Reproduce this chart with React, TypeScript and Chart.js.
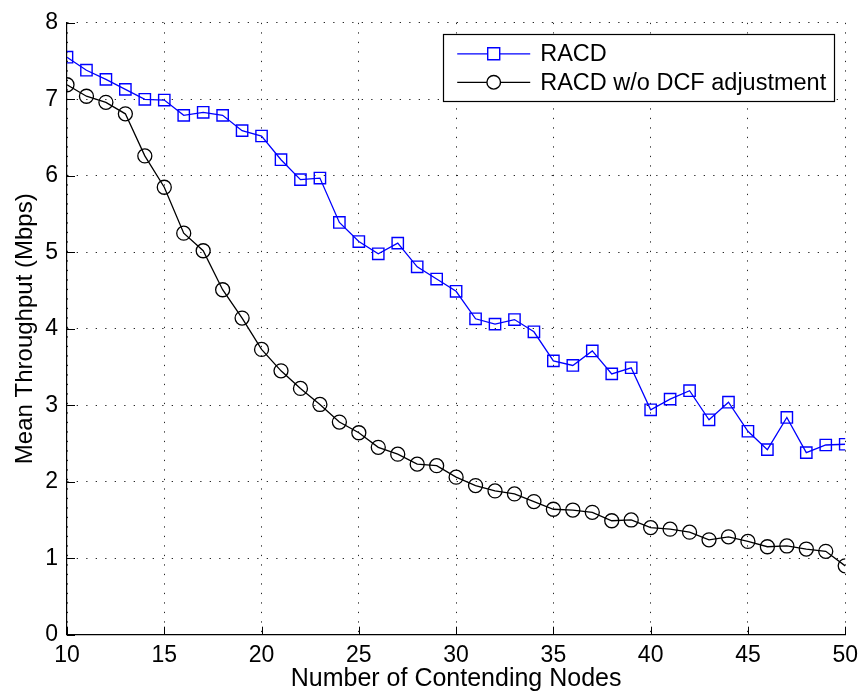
import React, { useEffect, useRef } from 'react';
import { Chart, registerables } from 'chart.js';

Chart.register(...registerables);

const nodes = [10, 11, 12, 13, 14, 15, 16, 17, 18, 19, 20, 21, 22, 23, 24, 25, 26, 27, 28, 29, 30, 31, 32, 33, 34, 35, 36, 37, 38, 39, 40, 41, 42, 43, 44, 45, 46, 47, 48, 49, 50];
const racd = [7.55, 7.38, 7.26, 7.13, 7.0, 6.99, 6.79, 6.83, 6.79, 6.59, 6.52, 6.21, 5.95, 5.97, 5.39, 5.14, 4.98, 5.12, 4.81, 4.65, 4.49, 4.13, 4.06, 4.12, 3.96, 3.58, 3.52, 3.71, 3.41, 3.49, 2.94, 3.08, 3.19, 2.81, 3.04, 2.66, 2.42, 2.84, 2.38, 2.48, 2.49];
const racdNoDcf = [7.19, 7.04, 6.96, 6.81, 6.26, 5.85, 5.25, 5.02, 4.51, 4.14, 3.73, 3.45, 3.22, 3.01, 2.78, 2.64, 2.45, 2.36, 2.23, 2.21, 2.06, 1.95, 1.88, 1.84, 1.74, 1.64, 1.63, 1.6, 1.49, 1.5, 1.4, 1.38, 1.34, 1.24, 1.28, 1.22, 1.15, 1.16, 1.12, 1.09, 0.9];
const xTicks = [10, 15, 20, 25, 30, 35, 40, 45, 50];
const yTicks = [0, 1, 2, 3, 4, 5, 6, 7, 8];
const seriesLabels = ['RACD', 'RACD w/o DCF adjustment'];
const xTitle = 'Number of Contending Nodes';
const yTitle = 'Mean Throughput (Mbps)';

const FONT = '"Liberation Sans", Arial, Helvetica, sans-serif';
const FS = 23;

const inwardTicks = {
  id: 'inwardTicks',
  afterDatasetsDraw(chart: any) {
    const { ctx, chartArea, scales } = chart;
    ctx.save();
    ctx.strokeStyle = '#000';
    ctx.lineWidth = 1;
    const len = 8;
    xTicks.forEach((v) => {
      const px = Math.round(scales.x.getPixelForValue(v)) + 0.5;
      ctx.beginPath();
      ctx.moveTo(px, chartArea.bottom);
      ctx.lineTo(px, chartArea.bottom - len);
      ctx.stroke();
    });
    yTicks.forEach((v) => {
      const py = Math.round(scales.y.getPixelForValue(v)) + 0.5;
      ctx.beginPath();
      ctx.moveTo(chartArea.left, py);
      ctx.lineTo(chartArea.left + len, py);
      ctx.stroke();
    });
    ctx.restore();
  },
};

const boxLegend = {
  id: 'boxLegend',
  afterDraw(chart: any) {
    const { ctx, chartArea } = chart;
    ctx.save();
    ctx.font = `${FS + 0.5}px ${FONT}`;
    const widths = chart.data.datasets.map((d: any) => ctx.measureText(d.label).width);
    const textW = Math.max(...widths);
    const textOff = 97;
    const w = textOff + textW + 8;
    const h = 67;
    const right = chartArea.right - 11;
    const left = right - w;
    const top = chartArea.top + 11;
    ctx.fillStyle = '#fff';
    ctx.fillRect(left, top, w, h);
    ctx.strokeStyle = '#000';
    ctx.lineWidth = 1.2;
    ctx.strokeRect(Math.round(left) + 0.5, Math.round(top) + 0.5, Math.round(w), Math.round(h));
    const rows = [top + 20, top + 48.5];
    chart.data.datasets.forEach((d: any, i: number) => {
      const y = rows[i];
      ctx.strokeStyle = d.borderColor;
      ctx.lineWidth = 1.2;
      ctx.beginPath();
      ctx.moveTo(left + 14, y);
      ctx.lineTo(left + 87, y);
      ctx.stroke();
      const cx = left + 50.5;
      ctx.strokeStyle = d.pointBorderColor;
      ctx.lineWidth = 1.4;
      ctx.fillStyle = '#fff';
      ctx.beginPath();
      if (d.pointStyle === 'rect') {
        const s = 6;
        ctx.rect(cx - s, y - s, 2 * s, 2 * s);
      } else {
        ctx.arc(cx, y, 6.8, 0, Math.PI * 2);
      }
      ctx.fill();
      ctx.stroke();
      ctx.fillStyle = '#000';
      ctx.textBaseline = 'middle';
      ctx.textAlign = 'left';
      ctx.fillText(d.label, left + textOff, y + 1);
    });
    ctx.restore();
  },
};

export default function App() {
  const ref = useRef<HTMLCanvasElement>(null);
  useEffect(() => {
    if (!ref.current) return;
    const gridDash = [1.3, 8.2];
    const chart = new Chart(ref.current, {
      type: 'line',
      data: {
        datasets: [
          {
            label: seriesLabels[0],
            data: nodes.map((n, i) => ({ x: n, y: racd[i] })),
            borderColor: '#0000ff',
            borderWidth: 1.3,
            pointStyle: 'rect',
            pointRadius: 8,
            pointBorderColor: '#0000ff',
            pointBackgroundColor: 'rgba(0,0,0,0)',
            pointBorderWidth: 1.4,
            tension: 0,
          },
          {
            label: seriesLabels[1],
            data: nodes.map((n, i) => ({ x: n, y: racdNoDcf[i] })),
            borderColor: '#000000',
            borderWidth: 1.3,
            pointStyle: 'circle',
            pointRadius: 7,
            pointBorderColor: '#000000',
            pointBackgroundColor: 'rgba(0,0,0,0)',
            pointBorderWidth: 1.3,
            tension: 0,
          },
        ],
      },
      options: {
        animation: false,
        responsive: false,
        maintainAspectRatio: false,
        layout: { autoPadding: false, padding: { top: 18.7, right: 16, left: 0, bottom: 0 } },
        plugins: { legend: { display: false }, tooltip: { enabled: false } },
        scales: {
          x: {
            type: 'linear',
            min: 10,
            max: 50,
            afterBuildTicks: (s: any) => { s.ticks = xTicks.map((v) => ({ value: v })); },
            afterFit: (s: any) => { s.height = 63.3; },
            grid: { color: 'rgba(0,0,0,0.85)', lineWidth: 1, drawTicks: false },
            border: { display: true, color: '#000', width: 1.2, dash: gridDash } as any,
            ticks: { font: { family: FONT, size: FS }, color: '#000', padding: 7, maxRotation: 0, autoSkip: false },
            title: { display: true, text: xTitle, font: { family: FONT, size: 25 }, color: '#000', padding: { top: 0, bottom: 4 } },
          },
          y: {
            type: 'linear',
            min: 0,
            max: 8,
            afterBuildTicks: (s: any) => { s.ticks = yTicks.map((v) => ({ value: v })); },
            afterFit: (s: any) => { s.width = 67; },
            grid: { color: 'rgba(0,0,0,0.85)', lineWidth: 1, drawTicks: false },
            border: { display: true, color: '#000', width: 1.2, dash: gridDash } as any,
            ticks: { font: { family: FONT, size: FS }, color: '#000', padding: 9, autoSkip: false },
            title: { display: true, text: yTitle, font: { family: FONT, size: 24 }, color: '#000', padding: { top: 11, bottom: 0 } },
          },
        },
      },
      plugins: [inwardTicks, boxLegend],
    });
    return () => chart.destroy();
  }, []);
  return (
    <div style={{ position: 'fixed', left: 0, top: 0, width: 865, height: 698, background: '#fff' }}>
      <canvas ref={ref} width={865} height={698} style={{ width: 865, height: 698 }} />
    </div>
  );
}
